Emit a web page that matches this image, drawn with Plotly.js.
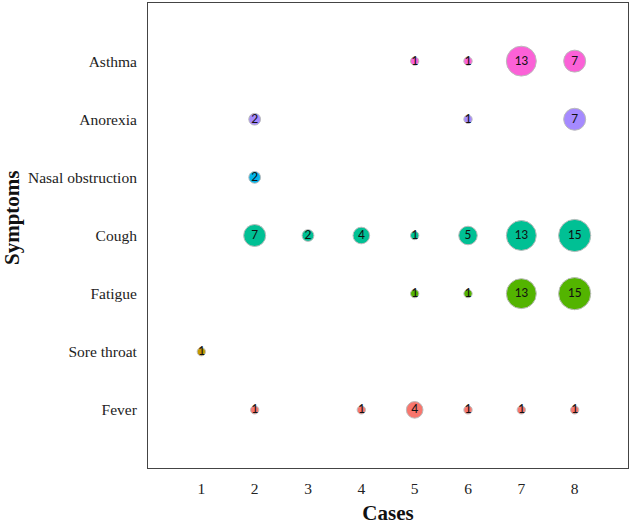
<!DOCTYPE html>
<html>
<head>
<meta charset="utf-8">
<script src="https://cdn.plot.ly/plotly-3.0.1.min.js"></script>
<style>html,body{margin:0;padding:0;background:#fff;}#chart{width:633px;height:525px;}</style>
</head>
<body>
<div id="chart"></div>
<script>
const symptoms = ["Fever", "Sore throat", "Fatigue", "Cough", "Nasal obstruction", "Anorexia", "Asthma"];
const colors = ["#F8766D", "#C49A00", "#53B400", "#00C094", "#00B6EB", "#A58AFF", "#FB61D7"];

const feverCases = [2, 4, 5, 6, 7, 8];
const feverCounts = [1, 1, 4, 1, 1, 1];
const soreThroatCases = [1];
const soreThroatCounts = [1];
const fatigueCases = [5, 6, 7, 8];
const fatigueCounts = [1, 1, 13, 15];
const coughCases = [2, 3, 4, 5, 6, 7, 8];
const coughCounts = [7, 2, 4, 1, 5, 13, 15];
const nasalCases = [2];
const nasalCounts = [2];
const anorexiaCases = [2, 6, 8];
const anorexiaCounts = [2, 1, 7];
const asthmaCases = [5, 6, 7, 8];
const asthmaCounts = [1, 1, 13, 7];

const xTicks = [1, 2, 3, 4, 5, 6, 7, 8];

const seriesCases = [feverCases, soreThroatCases, fatigueCases, coughCases, nasalCases, anorexiaCases, asthmaCases];
const seriesCounts = [feverCounts, soreThroatCounts, fatigueCounts, coughCounts, nasalCounts, anorexiaCounts, asthmaCounts];

const serif = "'Liberation Serif', 'Times New Roman', serif";

const traces = symptoms.map((s, i) => ({
  type: "scatter",
  mode: "markers+text",
  x: seriesCases[i],
  y: seriesCases[i].map(() => s),
  text: seriesCounts[i].map(String),
  textposition: "middle center",
  textfont: {family: "Carlito, 'Liberation Sans', sans-serif", size: 13.5, color: "#111"},
  marker: {
    size: seriesCounts[i],
    sizemode: "area",
    sizeref: 0.029,
    color: colors[i],
    opacity: 1,
    line: {color: "#bbbbbb", width: 1}
  },
  cliponaxis: false,
  hoverinfo: "x+y+text",
  showlegend: false
}));

const layout = {
  width: 633,
  height: 525,
  margin: {l: 148, r: 5, t: 3, b: 57},
  paper_bgcolor: "#fff",
  plot_bgcolor: "#fff",
  showlegend: false,
  xaxis: {
    range: [0, 9],
    tickvals: xTicks,
    ticktext: xTicks.map(String),
    showgrid: false,
    zeroline: false,
    showline: true,
    mirror: true,
    linecolor: "#444",
    linewidth: 1,
    ticks: "outside",
    ticklen: 6,
    tickcolor: "rgba(0,0,0,0)",
    tickfont: {family: serif, size: 15.5, color: "#222"},
    title: {text: "<b>Cases</b>", font: {family: serif, size: 21, color: "#111"}, standoff: 20}
  },
  yaxis: {
    type: "category",
    categoryorder: "array",
    categoryarray: symptoms,
    range: [-1, 7],
    showgrid: false,
    zeroline: false,
    showline: true,
    mirror: true,
    linecolor: "#444",
    linewidth: 1,
    ticks: "outside",
    ticklen: 7,
    tickcolor: "rgba(0,0,0,0)",
    tickfont: {family: serif, size: 15.5, color: "#222"}
  },
  annotations: [{
    text: "<b>Symptoms</b>",
    xref: "paper", yref: "paper",
    x: -0.283, y: 0.538,
    xanchor: "center", yanchor: "middle",
    textangle: -90,
    showarrow: false,
    font: {family: serif, size: 21, color: "#111"}
  }]
};

Plotly.newPlot("chart", traces, layout, {displayModeBar: false, staticPlot: true});
</script>
</body>
</html>
